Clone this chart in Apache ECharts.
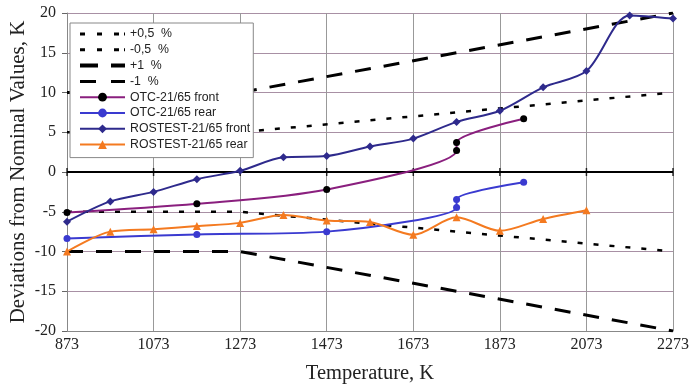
<!DOCTYPE html>
<html>
<head>
<meta charset="utf-8">
<script src="https://cdn.jsdelivr.net/npm/echarts@6/dist/echarts.min.js"></script>
<style>
html,body{margin:0;padding:0;background:#fff;}
#c{width:689px;height:386px;}
</style>
</head>
<body>
<div id="c"></div>
<script>
// Tick labels
var xTicks = [873, 1073, 1273, 1473, 1673, 1873, 2073, 2273];
var yTicks = [-20, -15, -10, -5, 0, 5, 10, 15, 20];

// Tolerance bands [T, deviation]
var tolT = [873, 1273, 2273];
var plus05 = [5, 5, 10];
var minus05 = [-5, -5, -10];
var plus1 = [10, 10, 20];
var minus1 = [-10, -10, -20];

// OTC-21/65 (front & rear share temperatures)
var otcT = [873, 1173, 1473, 1773, 1773, 1928];
var otcFront = [-5.1, -4.0, -2.2, 2.7, 3.7, 6.7];
var otcRear = [-8.35, -7.85, -7.5, -4.45, -3.45, -1.3];

// ROSTEST-21/65 front
var rfT = [873, 973, 1073, 1173, 1273, 1373, 1473, 1573, 1673, 1773, 1873, 1973, 2073, 2173, 2273];
var rfV = [-6.25, -3.7, -2.5, -0.9, 0.15, 1.85, 2.0, 3.2, 4.2, 6.3, 7.7, 10.65, 12.7, 19.7, 19.3];

// ROSTEST-21/65 rear
var rrT = [873, 973, 1073, 1173, 1273, 1373, 1473, 1573, 1673, 1773, 1873, 1973, 2073];
var rrV = [-10.0, -7.5, -7.2, -6.8, -6.4, -5.4, -6.1, -6.3, -7.9, -5.7, -7.4, -5.9, -4.8];

function pairs(xs, ys) { return xs.map(function (x, i) { return [x, ys[i]]; }); }

var serif = 'Liberation Serif';
var chart = echarts.init(document.getElementById('c'), null, {renderer: 'canvas'});

function tol(name, vals, dash, width) {
  return {
    name: name, type: 'line', data: pairs(tolT, vals), symbol: 'none',
    lineStyle: {color: '#000', width: width, type: dash}, itemStyle: {color: '#000'},
    z: 3, silent: true
  };
}

// legend icons for the dashed tolerance lines
var iconDot = 'path://M0,0h5v3h-5z M17,0h5v3h-5z M34,0h5v3h-5z M44,0h1v3h-1z';
var iconDash1 = 'path://M0,0h18v4h-18z M31,0h14v4h-14z';
var iconDash2 = 'path://M0,0h16v3h-16z M31,0h14v3h-14z';

var option = {
  animation: false,
  backgroundColor: '#fff',
  grid: {left: 67, right: 16, top: 13, bottom: 55, outerBoundsMode: 'none', containLabel: false},
  legend: {
    orient: 'vertical', left: 70, top: 23,
    backgroundColor: '#fff', borderColor: '#888', borderWidth: 1,
    padding: [5, 3, 7, 9],
    itemWidth: 45, itemHeight: 11, itemGap: 3.8,
    textStyle: {fontFamily: 'Liberation Sans', fontSize: 12.3, color: '#222', lineHeight: 12},
    data: [
      {name: '+0,5  %', icon: iconDot},
      {name: '-0,5  %', icon: iconDot},
      {name: '+1  %', icon: iconDash1},
      {name: '-1  %', icon: iconDash2},
      'OTC-21/65 front', 'OTC-21/65 rear', 'ROSTEST-21/65 front', 'ROSTEST-21/65 rear'
    ]
  },
  xAxis: {
    type: 'value', min: xTicks[0], max: xTicks[xTicks.length - 1], interval: 200,
    name: 'Temperature, K', nameLocation: 'middle', nameGap: 32,
    nameTextStyle: {fontFamily: serif, fontSize: 20.5, color: '#222'},
    axisLine: {show: true, onZero: false, lineStyle: {color: '#888', width: 1}},
    axisTick: {show: false},
    axisLabel: {fontFamily: serif, fontSize: 16, color: '#222', margin: 6,
      formatter: function (v) { return String(v); }},
    splitLine: {show: true, lineStyle: {color: '#999', width: 1}}
  },
  yAxis: {
    type: 'value', min: yTicks[0], max: yTicks[yTicks.length - 1], interval: 5,
    name: 'Deviations from Nominal Values, K', nameLocation: 'middle', nameGap: 38,
    nameMoveOverlap: false,
    nameTextStyle: {fontFamily: serif, fontSize: 21, color: '#222'},
    axisLine: {show: true, onZero: false, lineStyle: {color: '#888', width: 1}},
    axisTick: {show: true, length: 5, lineStyle: {color: '#666'}},
    axisLabel: {fontFamily: serif, fontSize: 16, color: '#222', margin: 11},
    splitLine: {show: true, lineStyle: {color: '#a890a4', width: 1}}
  },
  series: [
    {
      name: 'zero', type: 'line', symbol: 'none', silent: true, z: 2,
      data: [[xTicks[0], 0], [xTicks[xTicks.length - 1], 0]],
      lineStyle: {color: '#000', width: 2}
    },
    {
      name: 'zeroTicks', type: 'scatter', silent: true, z: 2,
      data: xTicks.map(function (t) { return [t, 0]; }),
      symbol: 'rect', symbolSize: [1.5, 8], itemStyle: {color: '#000'}
    },
    tol('+0,5  %', plus05, [5, 11], 2.5),
    tol('-0,5  %', minus05, [5, 11], 2.5),
    tol('+1  %', plus1, [16, 13], 3),
    tol('-1  %', minus1, [16, 13], 3),
    {
      name: 'OTC-21/65 front', type: 'line', data: pairs(otcT, otcFront), smooth: 0.3,
      symbol: 'circle', symbolSize: 7,
      lineStyle: {color: '#8a1f7e', width: 2}, itemStyle: {color: '#000'}, z: 5
    },
    {
      name: 'OTC-21/65 rear', type: 'line', data: pairs(otcT, otcRear), smooth: 0.3,
      symbol: 'circle', symbolSize: 7,
      lineStyle: {color: '#3a3ad0', width: 2}, itemStyle: {color: '#3a3ad0'}, z: 5
    },
    {
      name: 'ROSTEST-21/65 front', type: 'line', data: pairs(rfT, rfV), smooth: 0.3,
      symbol: 'diamond', symbolSize: 8,
      lineStyle: {color: '#2e2a8c', width: 2}, itemStyle: {color: '#2e2a8c'}, z: 6
    },
    {
      name: 'ROSTEST-21/65 rear', type: 'line', data: pairs(rrT, rrV), smooth: 0.3,
      symbol: 'triangle', symbolSize: 8,
      lineStyle: {color: '#f47a20', width: 2}, itemStyle: {color: '#f47a20'}, z: 5
    }
  ]
};
chart.setOption(option);
</script>
</body>
</html>
